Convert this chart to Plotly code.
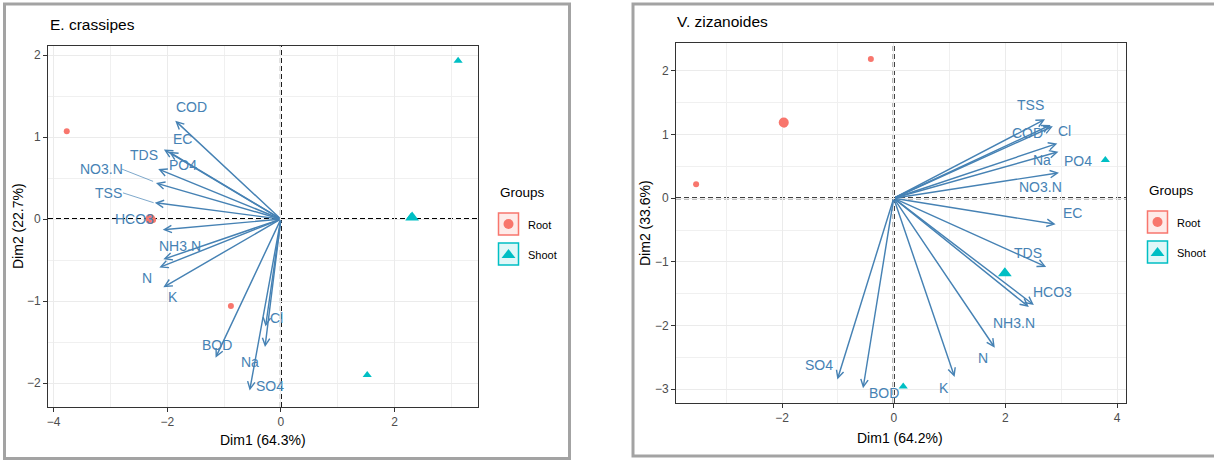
import plotly.graph_objects as go

W, H = 1214, 460
STEEL = "#4682B4"
ROOT = "#F8766D"
SHOOT = "#00BFC4"
FONT = "Liberation Sans, Arial, Helvetica, sans-serif"

# ---------------- Panel 1 : E. crassipes ----------------
ec_title = "E. crassipes"
ec_xlab = "Dim1 (64.3%)"
ec_ylab = "Dim2 (22.7%)"
ec_vars = ["COD", "EC", "PO4", "TDS", "NO3.N", "TSS", "HCO3",
           "NH3.N", "N", "K", "BOD", "Cl", "Na", "SO4"]
ec_dim1 = [-1.86, -2.06, -1.97, -2.16, -2.20, -2.22, -2.08,
           -2.07, -2.14, -2.07, -1.15, -0.27, -0.28, -0.55]
ec_dim2 = [1.20, 0.85, 0.82, 0.61, 0.44, 0.20, -0.13,
           -0.49, -0.59, -0.83, -1.69, -1.31, -1.56, -2.09]
ec_lab_x = [-1.57, -1.73, -1.73, -2.41, -3.16, -3.03, -2.57,
            -1.78, -2.35, -1.90, -1.12, -0.08, -0.55, -0.20]
ec_lab_y = [1.37, 0.98, 0.66, 0.78, 0.61, 0.32, 0.00,
            -0.33, -0.72, -0.95, -1.54, -1.20, -1.74, -2.04]
# repel segments (label -> arrow tip) for NO3.N and TSS
ec_seg_x0 = [-2.80, -2.78]
ec_seg_y0 = [0.61, 0.32]
ec_seg_x1 = [-2.25, -2.24]
ec_seg_y1 = [0.46, 0.20]
ec_root_x = [-3.77, -2.25, -0.88]
ec_root_y = [1.07, -0.01, -1.06]
ec_shoot_x = [3.12, 2.29, 1.52]
ec_shoot_y = [1.93, 0.03, -1.90]
ec_root_mean = (-2.30, 0.00)
ec_shoot_mean = (2.31, 0.02)
ec_xrange = [-4.10, 3.47]
ec_yrange = [-2.29, 2.11]

# ---------------- Panel 2 : V. zizanoides ----------------
vz_title = "V. zizanoides"
vz_xlab = "Dim1 (64.2%)"
vz_ylab = "Dim2 (33.6%)"
vz_vars = ["TSS", "COD", "Cl", "Na", "PO4", "NO3.N", "EC",
           "TDS", "HCO3", "NH3.N", "N", "K", "SO4", "BOD"]
vz_dim1 = [2.71, 2.81, 2.85, 2.93, 2.95, 2.96, 2.90,
           2.73, 2.51, 2.42, 1.81, 1.09, -1.01, -0.55]
vz_dim2 = [1.24, 1.15, 1.13, 0.86, 0.73, 0.40, -0.41,
           -1.08, -1.68, -1.71, -2.35, -2.81, -2.85, -2.99]
vz_lab_x = [2.45, 2.39, 3.06, 2.66, 3.30, 2.63, 3.21,
            2.41, 2.84, 2.15, 1.60, 0.90, -1.34, -0.17]
vz_lab_y = [1.47, 1.02, 1.05, 0.60, 0.58, 0.18, -0.23,
            -0.86, -1.47, -1.96, -2.51, -2.99, -2.62, -3.06]
vz_root_x = [-0.41, -1.96, -3.54]
vz_root_y = [2.19, 1.16, 0.22]
vz_shoot_x = [3.79, 1.99, 0.17]
vz_shoot_y = [0.60, -1.16, -2.96]
vz_root_mean = (-1.97, 1.19)
vz_shoot_mean = (1.99, -1.18)
vz_xrange = [-3.90, 4.16]
vz_yrange = [-3.22, 2.44]

groups = ["Root", "Shoot"]


def fx(px):
    return px / W


def fy(py):
    return 1 - py / H


fig = go.Figure()

panels = [
    dict(ax="", title=ec_title, xlab=ec_xlab, ylab=ec_ylab, vars=ec_vars, d1=ec_dim1, d2=ec_dim2,
         lx=ec_lab_x, ly=ec_lab_y, rx=ec_root_x, ry=ec_root_y, sx=ec_shoot_x, sy=ec_shoot_y,
         rm=ec_root_mean, sm=ec_shoot_mean, xr=ec_xrange, yr=ec_yrange,
         dom_x=(48, 478), dom_y=(46, 407), frame=(4.5, 4, 569.5, 458.5),
         title_pos=(48, 24), xlab_pos=(263, 440), ylab_pos=(18, 226),
         leg=(498, 192, 224, 254, 526)),
    dict(ax="2", title=vz_title, xlab=vz_xlab, ylab=vz_ylab, vars=vz_vars, d1=vz_dim1, d2=vz_dim2,
         lx=vz_lab_x, ly=vz_lab_y, rx=vz_root_x, ry=vz_root_y, sx=vz_shoot_x, sy=vz_shoot_y,
         rm=vz_root_mean, sm=vz_shoot_mean, xr=vz_xrange, yr=vz_yrange,
         dom_x=(676, 1126), dom_y=(43, 403), frame=(633, 4, 1220, 456),
         title_pos=(675, 22), xlab_pos=(900, 438), ylab_pos=(645, 223),
         leg=(1147, 191, 222, 252, 1175)),
]

annotations = []
shapes = []

for p in panels:
    xa, ya = "x" + p["ax"], "y" + p["ax"]
    # points
    fig.add_trace(go.Scatter(x=p["rx"], y=p["ry"], mode="markers", xaxis=xa, yaxis=ya,
                             marker=dict(symbol="circle", size=6, color=ROOT), showlegend=False))
    fig.add_trace(go.Scatter(x=p["sx"], y=p["sy"], mode="markers", xaxis=xa, yaxis=ya,
                             marker=dict(symbol="triangle-up", size=8, color=SHOOT), showlegend=False))
    fig.add_trace(go.Scatter(x=[p["rm"][0]], y=[p["rm"][1]], mode="markers", xaxis=xa, yaxis=ya,
                             marker=dict(symbol="circle", size=10, color=ROOT), showlegend=False))
    fig.add_trace(go.Scatter(x=[p["sm"][0]], y=[p["sm"][1]], mode="markers", xaxis=xa, yaxis=ya,
                             marker=dict(symbol="triangle-up", size=12, color=SHOOT), showlegend=False))
    # zero lines
    shapes.append(dict(type="line", xref=xa, yref=ya + " domain", x0=0, x1=0, y0=0, y1=1,
                       line=dict(color="black", width=2, dash="5px,3px"), layer="below"))
    shapes.append(dict(type="line", xref=xa + " domain", yref=ya, x0=0, x1=1, y0=0, y1=0,
                       line=dict(color="black", width=2, dash="5px,3px"), layer="below"))
    # arrows
    for v, x, y in zip(p["vars"], p["d1"], p["d2"]):
        annotations.append(dict(x=x, y=y, ax=0, ay=0, xref=xa, yref=ya, axref=xa, ayref=ya,
                                text="", showarrow=True, arrowhead=5, arrowsize=1.0,
                                arrowwidth=1.45, arrowcolor=STEEL, standoff=0))
    # labels
    for v, x, y in zip(p["vars"], p["lx"], p["ly"]):
        annotations.append(dict(x=x, y=y, xref=xa, yref=ya, text=v, showarrow=False,
                                font=dict(family=FONT, size=14, color=STEEL)))
    # frame
    fx0, fy0, fx1, fy1 = p["frame"]
    shapes.append(dict(type="rect", xref="paper", yref="paper", x0=fx(fx0), x1=fx(fx1),
                       y0=fy(fy1), y1=fy(fy0), line=dict(color="#A3A3A3", width=3)))
    # title and axis titles
    annotations.append(dict(x=fx(p["title_pos"][0]), y=fy(p["title_pos"][1]), xref="paper", yref="paper",
                            text=p["title"], showarrow=False, xanchor="left", yanchor="middle",
                            font=dict(family=FONT, size=15.5, color="black")))
    annotations.append(dict(x=fx(p["xlab_pos"][0]), y=fy(p["xlab_pos"][1]), xref="paper", yref="paper",
                            text=p["xlab"], showarrow=False, xanchor="center", yanchor="middle",
                            font=dict(family=FONT, size=14, color="black")))
    annotations.append(dict(x=fx(p["ylab_pos"][0]), y=fy(p["ylab_pos"][1]), xref="paper", yref="paper",
                            text=p["ylab"], showarrow=False, xanchor="center", yanchor="middle",
                            textangle=-90, font=dict(family=FONT, size=14, color="black")))
    # legend
    lx0, ly_title, ly_root, ly_shoot, ltext = p["leg"]
    annotations.append(dict(x=fx(lx0), y=fy(ly_title), xref="paper", yref="paper", text="Groups",
                            showarrow=False, xanchor="left", yanchor="middle",
                            font=dict(family=FONT, size=13.5, color="black")))
    for g, cy, col, fill in [(groups[0], ly_root, ROOT, "rgba(248,118,109,0.15)"),
                             (groups[1], ly_shoot, SHOOT, "rgba(0,191,196,0.12)")]:
        shapes.append(dict(type="rect", xref="paper", yref="paper", x0=fx(lx0 + 0.5), x1=fx(lx0 + 20.5),
                           y0=fy(cy + 11), y1=fy(cy - 11), line=dict(color=col, width=1.5), fillcolor=fill))
        annotations.append(dict(x=fx(ltext), y=fy(cy + 1), xref="paper", yref="paper", text=g,
                                showarrow=False, xanchor="left", yanchor="middle",
                                font=dict(family=FONT, size=11, color="black")))
    fig.add_trace(go.Scatter(x=[lx0 + 10.5], y=[ly_root], mode="markers", xaxis="x3", yaxis="y3",
                             marker=dict(symbol="circle", size=10, color=ROOT), showlegend=False))
    fig.add_trace(go.Scatter(x=[lx0 + 10.5], y=[ly_shoot + 1], mode="markers", xaxis="x3", yaxis="y3",
                             marker=dict(symbol="triangle-up", size=12, color=SHOOT), showlegend=False))

# repel segments in panel 1
for x0, y0, x1, y1 in zip(ec_seg_x0, ec_seg_y0, ec_seg_x1, ec_seg_y1):
    fig.add_trace(go.Scatter(x=[x0, x1], y=[y0, y1], mode="lines", xaxis="x", yaxis="y",
                             line=dict(color=STEEL, width=0.7), showlegend=False, hoverinfo="skip"))


def axis_common():
    return dict(showline=True, mirror=True, linecolor="#333333", linewidth=1,
                ticks="outside", ticklen=4, tickcolor="#333333", tickwidth=1,
                tickfont=dict(family=FONT, size=12, color="#4D4D4D"),
                showgrid=True, gridcolor="#EBEBEB", gridwidth=1.2, zeroline=False)


for p in panels:
    xk, yk = "xaxis" + p["ax"], "yaxis" + p["ax"]
    xa_anchor, ya_anchor = "y" + p["ax"], "x" + p["ax"]
    xcfg = axis_common()
    xcfg.update(domain=[fx(p["dom_x"][0]), fx(p["dom_x"][1])], range=p["xr"], dtick=2, tick0=0,
                anchor=xa_anchor, minor=dict(dtick=1, tick0=0, showgrid=True, gridcolor="#F0F0F0",
                                             gridwidth=0.8, ticks=""))
    ycfg = axis_common()
    ycfg.update(domain=[fy(p["dom_y"][1]), fy(p["dom_y"][0])], range=p["yr"], dtick=1, tick0=0,
                anchor=ya_anchor, minor=dict(dtick=0.5, tick0=0, showgrid=True, gridcolor="#F0F0F0",
                                             gridwidth=0.8, ticks=""))
    fig.update_layout(**{xk: xcfg, yk: ycfg})

fig.update_layout(
    xaxis3=dict(domain=[0, 1], range=[0, W], visible=False, anchor="y3", fixedrange=True),
    yaxis3=dict(domain=[0, 1], range=[H, 0], visible=False, anchor="x3", fixedrange=True),
    width=W, height=H, margin=dict(l=0, r=0, t=0, b=0),
    paper_bgcolor="white", plot_bgcolor="rgba(0,0,0,0)",
    annotations=annotations, shapes=shapes, showlegend=False,
    font=dict(family=FONT),
)

fig.write_html("out.html")
